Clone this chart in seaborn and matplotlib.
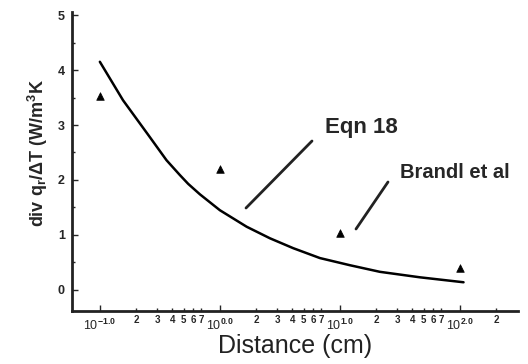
import matplotlib
matplotlib.use("Agg")
import matplotlib.pyplot as plt
import matplotlib.ticker as mticker
import numpy as np
import pandas as pd
import seaborn as sns

# ---- data ----
curve_x = [0.1, 0.156, 0.253, 0.359, 0.464, 0.544, 0.681, 1.0, 1.67, 2.61,
           4.08, 6.81, 12.1, 21.5, 46.4, 107]
curve_y = [4.15, 3.45, 2.82, 2.36, 2.09, 1.93, 1.74, 1.45, 1.15, 0.94,
           0.76, 0.58, 0.45, 0.33, 0.23, 0.14]
pts_x = [0.1, 1, 10, 100]
pts_y = [3.53, 2.2, 1.03, 0.40]
major_ticks = [0.1, 1, 10, 100]
major_labels = [r"10$^{-1.0}$", r"10$^{0.0}$", r"10$^{1.0}$", r"10$^{2.0}$"]
minor_ticks = [0.2, 0.3, 0.4, 0.5, 0.6, 0.7, 2, 3, 4, 5, 6, 7, 20, 30, 40, 50, 60, 70, 200]
minor_labels = ["2", "3", "4", "5", "6", "7", "2", "3", "4", "5", "6", "7",
                "2", "3", "4", "5", "6", "7", "2"]
y_ticks = [0, 1, 2, 3, 4, 5]

sns.set_style("ticks")
plt.rcParams["font.family"] = ["Liberation Sans", "DejaVu Sans"]
plt.rcParams["mathtext.fontset"] = "custom"
plt.rcParams["mathtext.rm"] = "Liberation Sans:bold"
plt.rcParams["mathtext.it"] = "Liberation Sans:bold"
plt.rcParams["mathtext.bf"] = "Liberation Sans:bold"
plt.rcParams["mathtext.default"] = "rm"

fig = plt.figure(figsize=(5.28, 3.64), dpi=100)
ax = fig.add_axes([0.136, 0.146, 0.845, 0.821])

df_curve = pd.DataFrame({"x": curve_x, "y": curve_y})
df_pts = pd.DataFrame({"x": pts_x, "y": pts_y})
sns.lineplot(data=df_curve, x="x", y="y", ax=ax, color="black", linewidth=1.8)
sns.scatterplot(data=df_pts, x="x", y="y", ax=ax, marker="^", color="black",
                s=30, edgecolor="black", linewidth=0.5, zorder=5)

ax.set_xscale("log")
ax.set_xlim(0.0584, 304)
ax.set_ylim(-0.38, 5.055)

for s in ["top", "right"]:
    ax.spines[s].set_visible(False)
for s in ["left", "bottom"]:
    ax.spines[s].set_linewidth(2.0)
    ax.spines[s].set_color("#222222")

ax.xaxis.set_major_locator(mticker.FixedLocator(major_ticks))
ax.xaxis.set_major_formatter(mticker.FixedFormatter(major_labels))
ax.xaxis.set_minor_locator(mticker.FixedLocator(minor_ticks))
ax.xaxis.set_minor_formatter(mticker.FixedFormatter(minor_labels))
ax.tick_params(axis="x", which="major", direction="in", length=4, width=1,
               labelsize=9, pad=5)
ax.tick_params(axis="x", which="minor", direction="in", length=2.5, width=1,
               labelsize=7, pad=3)
for lab in ax.xaxis.get_minorticklabels():
    lab.set_fontweight("bold")

ax.set_yticks(y_ticks)
ax.set_yticks([0.5, 1.5, 2.5, 3.5, 4.5], minor=True)
ax.tick_params(axis="y", which="major", direction="in", length=4, width=1,
               labelsize=9, pad=5)
ax.tick_params(axis="y", which="minor", direction="in", length=2, width=1)
for lab in ax.get_yticklabels():
    lab.set_fontweight("bold")

ax.set_xlabel("Distance (cm)", fontsize=18, labelpad=1, color="#222222")
ax.set_ylabel(r"div q$_r$/$\Delta$T (W/m$^3$K", fontsize=13, fontweight="bold")
ax.yaxis.set_label_coords(-0.05, 0.53)

# annotations
ax.text(325 / 528, (364 - 128) / 364, "Eqn 18", transform=fig.transFigure,
        fontsize=16, fontweight="bold", va="center", ha="left")
ax.text(400 / 528, (364 - 172) / 364, "Brandl et al", transform=fig.transFigure,
        fontsize=14.5, fontweight="bold", va="center", ha="left")
fig.add_artist(plt.Line2D([246 / 528, 312 / 528], [(364 - 208) / 364, (364 - 141) / 364],
                          transform=fig.transFigure, color="#222222", linewidth=2))
fig.add_artist(plt.Line2D([356 / 528, 388 / 528], [(364 - 229) / 364, (364 - 182) / 364],
                          transform=fig.transFigure, color="#222222", linewidth=2))

fig.savefig("out.png", dpi=100)
